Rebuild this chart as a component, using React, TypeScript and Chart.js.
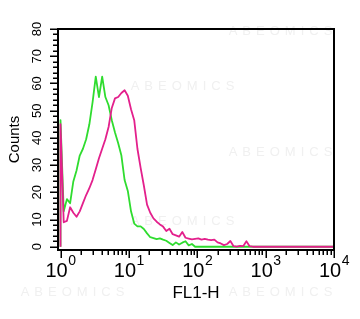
import { useEffect, useRef } from 'react';
import { Chart, registerables } from 'chart.js';

Chart.register(...registerables);

const FONT = "'Liberation Sans', Arial, Helvetica, sans-serif";

// FL1-H channel numbers (1024 channels over 4 log decades); the first 0 is the baseline start
const channels = [0, 0, 12, 24, 36, 48, 60, 72, 84, 96, 108, 120, 132, 144, 156, 168, 180, 192, 204, 216, 228, 240, 252, 264, 276, 288, 300, 312, 324, 336, 348, 360, 372, 384, 396, 408, 420, 432, 444, 456, 468, 480, 492, 504, 516, 528, 540, 552, 564, 576, 588, 600, 612, 624, 636, 648, 660, 672, 684, 696, 708, 720, 1024];

const greenCounts = [0, 46.5, 13, 17.5, 16, 24, 28, 33.5, 36, 39.5, 45, 53, 62.5, 55, 62.5, 55, 52, 46.5, 42, 38, 33.5, 24.5, 20.5, 13, 8.5, 7.5, 7.5, 6.5, 4.9, 3.5, 3.2, 2.8, 3.1, 2.6, 2.2, 1.4, 0.6, 1.6, 0.8, 1.5, 2, 0.5, 1, 0, 0, 0, 0, 0, 0, 0, 0, 0, 0, 0, 0, 0, 0, 0, 0, 0, 0, 0, 0];

const magentaCounts = [0, 45, 9, 9.5, 14.5, 12.5, 11, 13, 16, 19, 21.5, 24.5, 28.5, 32.5, 36, 39.5, 44, 51, 54.5, 55, 56.5, 57.5, 55.5, 50.5, 46.5, 36, 29, 22.5, 15.5, 12.5, 10.4, 9.2, 8.2, 7.4, 5.8, 6.6, 4.6, 4.2, 3.7, 5.4, 3.3, 3.0, 2.7, 2.9, 3.1, 2.6, 2.9, 2.6, 2.4, 2.6, 1.6, 1.2, 0.6, 1.0, 2.1, 0.2, 0, 0.3, 0.2, 2.0, 0.2, 0, 0];

const channelsPerDecade = 256;

const xTickValues = [1, 10, 100, 1000, 10000];
const xTickBase = '10';
const xTickExponents = ['0', '1', '2', '3', '4'];
const xMinorMultipliers = [2, 3, 4, 5, 6, 7, 8, 9];

const yTickValues = [0, 10, 20, 30, 40, 50, 60, 70, 80];
const yTickLabels = ['0', '10', '20', '30', '40', '50', '60', '70', '80'];
const yMinorStep = 2;

const xTitle = 'FL1-H';
const yTitle = 'Counts';
const watermark = 'ABEOMICS';

const GREEN = '#2fdc2f';
const MAGENTA = '#e3208c';

const toFl1 = (ch: number) => Math.pow(10, ch / channelsPerDecade);

const axesPlugin = {
  id: 'axesPlugin',
  beforeDatasetsDraw(chart: any) {
    const { ctx, chartArea: a } = chart;
    ctx.save();
    ctx.fillStyle = '#f0f0f0';
    ctx.font = `13px ${FONT}`;
    ctx.textAlign = 'center';
    ctx.textBaseline = 'middle';
    try { (ctx as any).letterSpacing = '5px'; } catch (e) {}
    const spots = [
      [a.left + 225, a.top + 2],
      [a.left + 127, a.top + 57],
      [a.left + 225, a.top + 123],
      [a.left + 127, a.top + 192],
      [a.left + 17, a.bottom + 42],
      [a.left + 225, a.bottom + 42],
    ];
    spots.forEach(([x, y]) => ctx.fillText(watermark, x, y));
    ctx.restore();
  },
  afterDraw(chart: any) {
    const { ctx, chartArea: a, scales } = chart;
    const xs = scales.x;
    const ys = scales.y;
    ctx.save();
    ctx.strokeStyle = '#000';
    ctx.lineWidth = 2;
    ctx.strokeRect(a.left, a.top, a.right - a.left, a.bottom - a.top);

    ctx.lineWidth = 1.5;
    ctx.beginPath();
    // x ticks
    xTickValues.forEach((v) => {
      const px = Math.round(xs.getPixelForValue(v)) + 0.25;
      ctx.moveTo(px, a.bottom);
      ctx.lineTo(px, a.bottom + 8);
    });
    xTickValues.slice(0, -1).forEach((d) => {
      xMinorMultipliers.forEach((m) => {
        const px = Math.round(xs.getPixelForValue(d * m)) + 0.25;
        ctx.moveTo(px, a.bottom);
        ctx.lineTo(px, a.bottom + 5);
      });
    });
    // y ticks
    const yMax = yTickValues[yTickValues.length - 1];
    for (let v = yTickValues[0]; v <= yMax; v += yMinorStep) {
      const py = Math.round(ys.getPixelForValue(v)) + 0.25;
      const len = yTickValues.includes(v) ? 8 : 5;
      ctx.moveTo(a.left - len, py);
      ctx.lineTo(a.left, py);
    }
    ctx.stroke();

    ctx.fillStyle = '#000';
    // y tick labels, rotated to read upwards
    ctx.font = `13px ${FONT}`;
    ctx.textAlign = 'center';
    ctx.textBaseline = 'middle';
    yTickValues.forEach((v, i) => {
      const py = ys.getPixelForValue(v);
      ctx.save();
      ctx.translate(a.left - 21, py);
      ctx.rotate(-Math.PI / 2);
      ctx.fillText(yTickLabels[i], 0, 0);
      ctx.restore();
    });

    // x tick labels with superscript exponents
    ctx.textBaseline = 'alphabetic';
    ctx.textAlign = 'left';
    xTickValues.forEach((v, i) => {
      const px = xs.getPixelForValue(v);
      ctx.font = `20px ${FONT}`;
      const wb = ctx.measureText(xTickBase).width;
      ctx.font = `14px ${FONT}`;
      const we = ctx.measureText(xTickExponents[i]).width;
      const start = px - (wb + we) / 2;
      ctx.font = `20px ${FONT}`;
      ctx.fillText(xTickBase, start, a.bottom + 27);
      ctx.font = `14px ${FONT}`;
      ctx.fillText(xTickExponents[i], start + wb + 0.5, a.bottom + 15);
    });
    ctx.restore();
  },
};

export default function App() {
  const ref = useRef<HTMLCanvasElement>(null);
  useEffect(() => {
    const canvas = ref.current;
    if (!canvas) return;
    const chart = new Chart(canvas, {
      type: 'line',
      data: {
        datasets: [
          {
            label: 'Stained',
            data: channels.map((c, i) => ({ x: toFl1(c), y: magentaCounts[i] })),
            borderColor: MAGENTA,
            borderWidth: 1.8,
            borderJoinStyle: 'round',
            pointRadius: 0,
            tension: 0,
            fill: false,
          },
          {
            label: 'Control',
            data: channels.map((c, i) => ({ x: toFl1(c), y: greenCounts[i] })),
            borderColor: GREEN,
            borderWidth: 1.8,
            borderJoinStyle: 'round',
            pointRadius: 0,
            tension: 0,
            fill: false,
          },
        ],
      },
      options: {
        animation: false,
        responsive: false,
        maintainAspectRatio: false,
        layout: { padding: { top: 29, right: 26, left: 0, bottom: 0 } },
        plugins: { legend: { display: false }, tooltip: { enabled: false } },
        scales: {
          x: {
            type: 'logarithmic',
            min: 0.919,
            max: 10000,
            grid: { display: false },
            border: { display: false },
            ticks: { display: false },
            title: {
              display: true,
              text: xTitle,
              color: '#000',
              font: { family: FONT, size: 17 },
              padding: { top: 0, bottom: 15 },
            },
            afterFit: (s: any) => { s.height = 69; },
          },
          y: {
            type: 'linear',
            min: -1.2,
            max: 80,
            grid: { display: false },
            border: { display: false },
            ticks: { display: false },
            title: {
              display: true,
              text: yTitle,
              color: '#000',
              font: { family: FONT, size: 15 },
              padding: { top: 6, bottom: 0 },
            },
            afterFit: (s: any) => { s.width = 58; },
          },
        },
      } as any,
      plugins: [axesPlugin],
    });
    return () => chart.destroy();
  }, []);
  return (
    <div style={{ position: 'absolute', left: 0, top: 0, width: 360, height: 319, background: '#fff' }}>
      <canvas ref={ref} width={360} height={319} style={{ display: 'block', width: 360, height: 319 }} />
    </div>
  );
}
